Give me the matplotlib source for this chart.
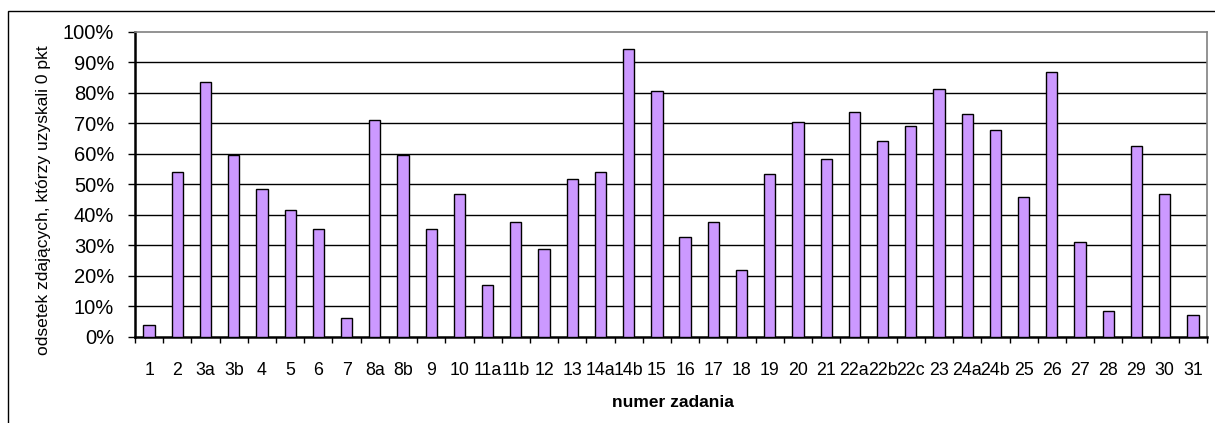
import matplotlib
matplotlib.use("Agg")
import matplotlib.pyplot as plt
from matplotlib.patches import Rectangle
from matplotlib.ticker import FixedLocator, PercentFormatter
import numpy as np

categories = ["1", "2", "3a", "3b", "4", "5", "6", "7", "8a", "8b", "9", "10",
              "11a", "11b", "12", "13", "14a", "14b", "15", "16", "17", "18",
              "19", "20", "21", "22a", "22b", "22c", "23", "24a", "24b", "25",
              "26", "27", "28", "29", "30", "31"]
values = [4.0, 53.9, 83.6, 59.7, 48.3, 41.7, 35.3, 6.0, 70.9, 59.7, 35.3, 46.7,
          17.0, 37.5, 28.9, 51.8, 54.0, 94.4, 80.5, 32.7, 37.5, 21.9,
          53.2, 70.5, 58.4, 73.6, 64.0, 69.2, 81.3, 73.1, 67.9, 45.7,
          86.7, 30.9, 8.3, 62.6, 46.7, 7.0]
y_ticks = [0, 10, 20, 30, 40, 50, 60, 70, 80, 90, 100]

plt.rcParams['font.family'] = ['Liberation Sans', 'DejaVu Sans']

W, H = 1215, 423
fig = plt.figure(figsize=(W / 100, H / 100), dpi=100)

# outer chart frame (clipped at right and bottom)
fig.patches.append(Rectangle((7.5 / W, -0.1), 1.2, 1 - 11.5 / H + 0.1,
                             transform=fig.transFigure, fill=False,
                             edgecolor='black', linewidth=1.0))

ax = fig.add_axes([135 / W, 1 - 336.7 / H, (1207 - 135) / W, (336.7 - 31.7) / H])

x = np.arange(len(categories))
ax.bar(x, values, width=0.4, color='#CC99FF', edgecolor='black', linewidth=1.0, zorder=3)

ax.set_xlim(-0.5, len(categories) - 0.5)
ax.set_ylim(0, 100)

ax.yaxis.set_major_locator(FixedLocator(y_ticks))
ax.yaxis.set_major_formatter(PercentFormatter(decimals=0))
for yv in y_ticks[1:-1]:
    ax.axhline(yv, color='black', linewidth=1.0, zorder=1)

ax.set_xticks(x)
ax.set_xticklabels(categories)
ax.set_xticks(np.arange(len(categories) + 1) - 0.5, minor=True)
ax.tick_params(axis='x', which='major', length=0, pad=18, labelsize=12.8)
ax.tick_params(axis='x', which='minor', length=4, width=1.0, direction='out')
ax.tick_params(axis='y', which='major', length=5, width=1.0, direction='out',
               pad=10, labelsize=14.5)

for s in ['left', 'bottom']:
    ax.spines[s].set_linewidth(1.8)
    ax.spines[s].set_color('black')
for s in ['top', 'right']:
    ax.spines[s].set_linewidth(1.2)
    ax.spines[s].set_color('#808080')

fig.text(44 / W, 1 - 200 / H, 'odsetek zdających, którzy uzyskali 0 pkt',
         fontsize=12.6, rotation=90, ha='center', va='center')
fig.text(673 / W, 1 - 402 / H, 'numer zadania', fontsize=12.5, fontweight='bold',
         ha='center', va='center')

fig.savefig('out.png', dpi=100)
